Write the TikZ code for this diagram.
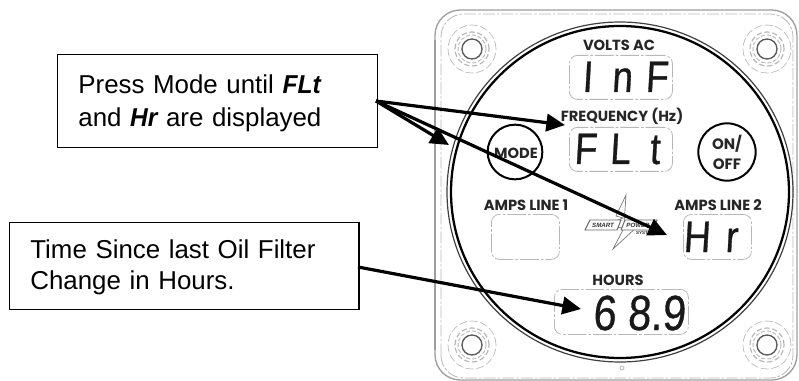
\documentclass[tikz,border=0pt]{standalone}
\usepackage{fontspec}
\usepackage{graphicx}
\usetikzlibrary{arrows.meta}
\setmainfont{Liberation Sans}
\newfontfamily\lblf{Poppins}
\newfontfamily\segf{Liberation Sans}[FakeSlant=0.07,FakeBold=0.8]
\newcommand{\sg}[1]{\makebox[26pt]{\scalebox{0.84}[1]{#1}}}
\newcommand{\minidisp}[1]{{\bfseries\itshape\scalebox{0.95}[1]{#1}}}
\definecolor{dispgray}{gray}{0.72}
\definecolor{plategray}{gray}{0.62}
\tikzset{
  x=0.75pt,y=-0.75pt,
  callout/.style={draw=black,line width=1.1pt,fill=white,anchor=north west,inner xsep=15.5pt,inner ysep=0pt,align=left},
  plateline/.style={draw=plategray,line width=1pt},
  platedash/.style={draw=dispgray,line width=0.6pt,dash pattern=on 9pt off 1.5pt on 2pt off 1.5pt},
  display/.style={draw=dispgray,line width=0.6pt,rounded corners=6pt,dash pattern=on 14pt off 1.5pt on 2pt off 1.5pt,anchor=north west,inner sep=0pt},
  seglabel/.style={inner sep=0pt,anchor=base,font=\segf\fontsize{33}{33}\selectfont,text=black!90},
  panellabel/.style={inner sep=0pt,font=\lblf\bfseries\fontsize{11}{11}\selectfont,text=black!85},
  btn/.style={circle,draw=black,line width=1.5pt,fill=none,inner sep=0pt},
  pointer/.style={line width=2.4pt,draw=black,-{Triangle[length=14pt,width=13pt]},shorten >=0pt},
  screwring/.style={draw=dispgray,line width=0.5pt},
}
\begin{document}
\begin{tikzpicture}
\useasboundingbox (0,0) rectangle (799,381);
% plate
\draw[plateline,rounded corners=19pt] (435,380) -- (435,10) -- (797,10) -- (797,380) -- cycle;
\draw[platedash,rounded corners=17pt] (441,378) -- (441,14) -- (793,14) -- (793,378) -- cycle;
\draw[plategray,line width=1.6pt] (435,40) -- (435,350);
% screws
\foreach \n/\cx/\cy in {a/472/49,b/767/49,c/472/345,d/767/345}{
  \coordinate (screw\n) at (\cx,\cy);
  \draw[screwring,dash pattern=on 6pt off 2pt] (screw\n) circle [radius=24*0.75pt];
  \draw[screwring,line width=0.9pt,dash pattern=on 4pt off 2pt] (screw\n) circle [radius=17*0.75pt];
  \draw[screwring,line width=0.7pt,dash pattern=on 3pt off 1.5pt] (screw\n) circle [radius=14*0.75pt];
  \draw[draw=black!65,line width=1pt] (screw\n) circle [radius=10*0.75pt];
}
% bezel
\coordinate (dial) at (620,192);
\draw[black!75,line width=0.9pt] (dial) ellipse [x radius=173,y radius=170];
\draw[black,line width=1.7pt] (dial) ellipse [x radius=169,y radius=166];
\draw[dispgray,line width=0.6pt] (622,368) circle [radius=2];
% displays
\node[display,minimum width=77.25pt,minimum height=33pt] (volts) at (569,55) {};
\node[display,minimum width=77.25pt,minimum height=33pt] (freq) at (569,127) {};
\node[display,minimum width=51pt,minimum height=33.75pt] (amps1) at (491,214) {};
\node[display,minimum width=51pt,minimum height=33.75pt] (amps2) at (683,214) {};
\node[display,minimum width=100.5pt,minimum height=33.75pt] (hours) at (554,289) {};
% labels
\node[panellabel] (lblvolts) at (619,45) {VOLTS AC};
\node[panellabel] (lblfreq) at (622,116) {FREQUENCY (Hz)};
\node[panellabel] (lblamps1) at (526,205) {AMPS LINE 1};
\node[panellabel] (lblamps2) at (718,205) {AMPS LINE 2};
\node[panellabel] (lblhours) at (618,280) {HOURS};
% segment read-outs
\node[seglabel] (rvolts) at (622,92) {\sg{I}\sg{n}\sg{F}};
\node[seglabel] (rfreq) at (620,164) {\sg{F}\sg{L}\sg{t}};
\node[seglabel] (ramps) at (714,252) {\sg{H}\sg{r}};
\node[seglabel,font=\segf\fontsize{37}{37}\selectfont] (rhours) at (639,330) {\sg{6}\sg{8\rlap{.}}\sg{9}};
% buttons
\node[btn,minimum size=41pt] (mode) at (515,152) {};
\node[panellabel] (modetxt) at (516,153) {MODE};
\node[btn,minimum size=43pt] (onoff) at (727,152) {};
\node[panellabel,align=center,font=\lblf\bfseries\fontsize{11.3}{15}\selectfont] (onofftxt) at (727,152) {ON/\\OFF};
% logo
\draw[black!55,line width=0.5pt,fill=white] (626,195) -- (616,216) -- (623,218) -- (604,226) -- (624,228) -- (613,249) -- (638,226) -- (624,224) -- cycle;
\draw[black!60,line width=0.7pt,fill=white] (590,220) -- (621,220) -- (617,230) -- (585,230) -- cycle;
\draw[black!60,line width=0.7pt,fill=white] (625,220) -- (657,220) -- (652,230) -- (621,230) -- cycle;
\node[inner sep=0pt,font=\bfseries\itshape\fontsize{4.6}{5}\selectfont,text=black!80] (smart) at (603,225) {SMART};
\node[inner sep=0pt,font=\bfseries\itshape\fontsize{4.6}{5}\selectfont,text=black!80] (power) at (638,225) {POWER};
\node[inner sep=0pt,font=\bfseries\fontsize{3.4}{4}\selectfont,text=black!80] (sys) at (647,233) {SYSTEMS};
% callouts
\node[callout,font=\fontsize{19.4}{25}\selectfont,minimum width=240pt,minimum height=69.75pt,text width=209pt] (press) at (57,54)
  {\rule{0pt}{17pt}Press Mode until \minidisp{FLt}\\and \minidisp{Hr} are displayed};
\node[callout,font=\fontsize{19.4}{23.2}\selectfont,minimum width=262pt,minimum height=65.25pt,text width=231pt] (since) at (9,222)
  {\rule{0pt}{15.5pt}Time Since last Oil Filter\\Change in Hours.};
% pointers
\coordinate (p1) at (376,101);
\coordinate (s2) at (358,267);
\coordinate (tipfreq) at (565,125);
\coordinate (tipmode) at (449,145);
\coordinate (tipamps) at (667,235);
\coordinate (tiphours) at (581,309);
\draw[pointer] (p1) -- (tipfreq);
\draw[pointer] (p1) -- (tipmode);
\draw[pointer] (p1) -- (tipamps);
\draw[pointer] (s2) -- (tiphours);
\end{tikzpicture}
\end{document}
